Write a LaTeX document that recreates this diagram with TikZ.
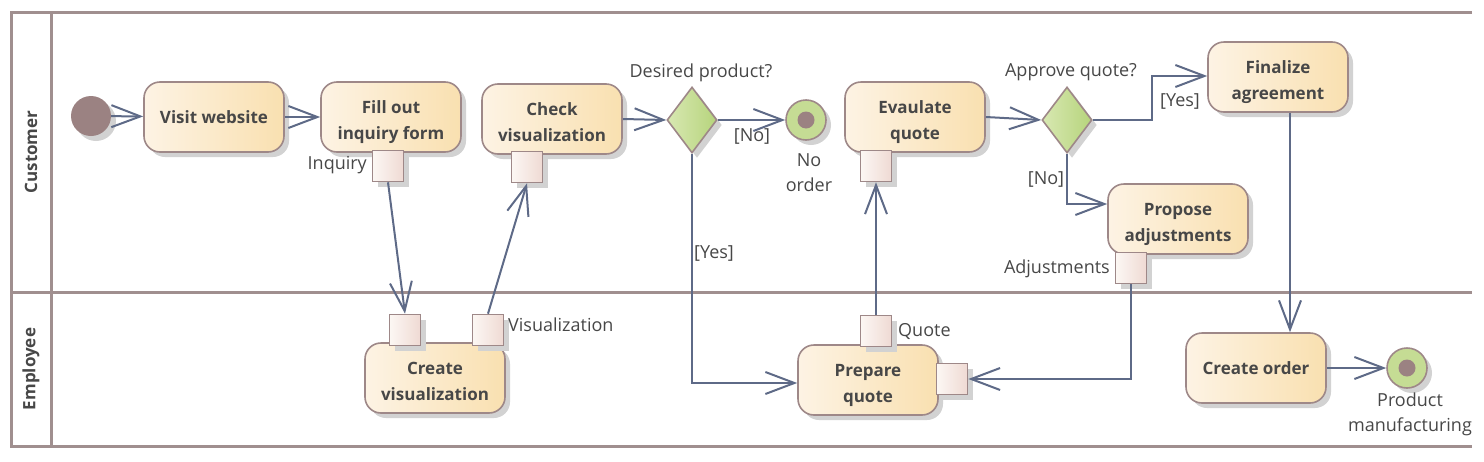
\documentclass[tikz,border=0pt]{standalone}
\usepackage{fontspec}
\setmainfont{Open Sans}
\usetikzlibrary{arrows.meta,shapes.geometric,shadows}
\definecolor{framec}{HTML}{A08F8F}
\definecolor{bord}{HTML}{9E8888}
\definecolor{actl}{HTML}{FDF3E4}
\definecolor{actr}{HTML}{F9E0B0}
\definecolor{pinl}{HTML}{FCF7F4}
\definecolor{pinr}{HTML}{EFDAD3}
\definecolor{decl}{HTML}{D8E8B2}
\definecolor{decr}{HTML}{B6D47C}
\definecolor{initc}{HTML}{9B8282}
\definecolor{finc}{HTML}{C5DC94}
\definecolor{edgec}{HTML}{5E6A87}
\definecolor{txt}{HTML}{474747}
\definecolor{shad}{HTML}{D2D2D2}
\tikzset{
  shad/.style={general shadow={fill=shad, shadow xshift=5pt, shadow yshift=-5pt}},
  act/.style={shad, rectangle, rounded corners=16pt, draw=bord, line width=1.6pt,
    left color=actl, right color=actr, minimum width=140pt, minimum height=70pt,
    align=center, text=txt, font=\fontsize{17}{26}\selectfont\bfseries, inner sep=0pt},
  act2/.style={act, text height=49pt, text depth=4pt},
  pin/.style={shad, rectangle, draw=bord, line width=1.6pt, left color=pinl, right color=pinr,
    minimum width=31pt, minimum height=31pt, inner sep=0pt},
  dec/.style={shad, diamond, draw=bord, line width=1.6pt, left color=decl, right color=decr,
    minimum width=50pt, minimum height=66pt, inner sep=0pt},
  initn/.style={shad, circle, fill=initc, minimum size=40pt, inner sep=0pt},
  finn/.style={shad, circle, draw=bord, line width=1.6pt, fill=finc, minimum size=40pt, inner sep=0pt},
  dot/.style={circle, fill=initc, minimum size=17pt, inner sep=0pt},
  lbl/.style={text=txt, font=\fontsize{18}{25}\selectfont, inner sep=0pt, align=center},
  lane/.style={text=txt, font=\fontsize{17}{20}\selectfont\bfseries, rotate=90, inner sep=0pt},
  frame/.style={draw=framec, line width=3pt},
  flow/.style={draw=edgec, line width=2pt, -{Straight Barb[length=29pt,width=22pt,line width=2pt]}},
}
\begin{document}
\begin{tikzpicture}[x=1pt,y=-1pt]
\useasboundingbox (0,0) rectangle (1484,461);
% frame
\draw[frame] (1472,12) -- (11,12) -- (11,446) -- (1472,446);
\draw[frame] (51,12) -- (51,446);
\draw[frame] (11,292) -- (1472,292);
\node[lane] (lc) at (31,152) {Customer};
\node[lane] (le) at (31,369) {Employee};
% customer lane
\node[initn] (init) at (91,116) {};
\node[act] (visit) at (214,117) {Visit website};
\node[act2] (fill) at (391,117) {Fill out\\inquiry form};
\node[pin] (inq) at (388,166) {};
\node[lbl, anchor=east] (inql) at (367,165) {Inquiry};
\node[act2] (check) at (552,119) {Check\\visualization};
\node[pin] (chkpin) at (527,167) {};
\node[dec] (d1) at (692,120) {};
\node[lbl] (d1l) at (701,73) {Desired product?};
\node[finn] (noord) at (806,120) {};
\node[dot] (noorddot) at (806,120) {};
\node[lbl] (noordl) at (809,173) {No\\order};
\node[lbl] (nol) at (752,136) {[No]};
\node[act2] (eval) at (915,117) {Evaulate\\quote};
\node[pin] (evpin) at (876,166) {};
\node[dec] (d2) at (1067,120) {};
\node[lbl] (d2l) at (1071,72) {Approve quote?};
\node[act2] (finz) at (1278,77) {Finalize\\agreement};
\node[lbl] (yesl2) at (1180,101) {[Yes]};
\node[lbl] (nol2) at (1046,179) {[No]};
\node[act2] (prop) at (1178,219) {Propose\\adjustments};
\node[pin] (adjpin) at (1131,268) {};
\node[lbl, anchor=east] (adjl) at (1110,269) {Adjustments};
\node[lbl] (yesl1) at (714,253) {[Yes]};
% employee lane
\node[act2] (cviz) at (435,378) {Create\\visualization};
\node[pin] (cvin) at (405,330) {};
\node[pin] (cvout) at (488,330) {};
\node[lbl, anchor=west] (vizl) at (508,325) {Visualization};
\node[act2] (prep) at (868,380) {Prepare\\quote};
\node[pin] (qpin) at (876,331) {};
\node[lbl, anchor=west] (ql) at (898,331) {Quote};
\node[pin] (prpin) at (952,379) {};
\node[act] (order) at (1256,368) {Create order};
\node[finn] (prod) at (1407,368) {};
\node[dot] (proddot) at (1407,368) {};
\node[lbl] (prodl) at (1410,414) {Product\\manufacturing};
% edges
\draw[flow] (init) -- (visit);
\draw[flow] (visit) -- (fill);
\draw[flow] (inq.south) -- (cvin.north);
\draw[flow] (cvout.north) -- (chkpin.south);
\draw[flow] (check.east) -- (d1.west);
\draw[flow] (d1.east) -- (noord.west);
\draw[flow] (d1.south) |- ([yshift=-3pt]prep.west);
\draw[flow] (qpin.north) -- (evpin.south);
\draw[flow] (eval.east) -- (d2.west);
\draw[flow] (d2.east) -- ([xshift=59pt]d2.east) |- ([yshift=1pt]finz.west);
\draw[flow] (d2.south) |- ([yshift=15pt]prop.west);
\draw[flow] (adjpin.south) |- (prpin.east);
\draw[flow] ([xshift=12pt]finz.south) -- ([xshift=34pt]order.north);
\draw[flow] (order) -- (prod);
\end{tikzpicture}
\end{document}
